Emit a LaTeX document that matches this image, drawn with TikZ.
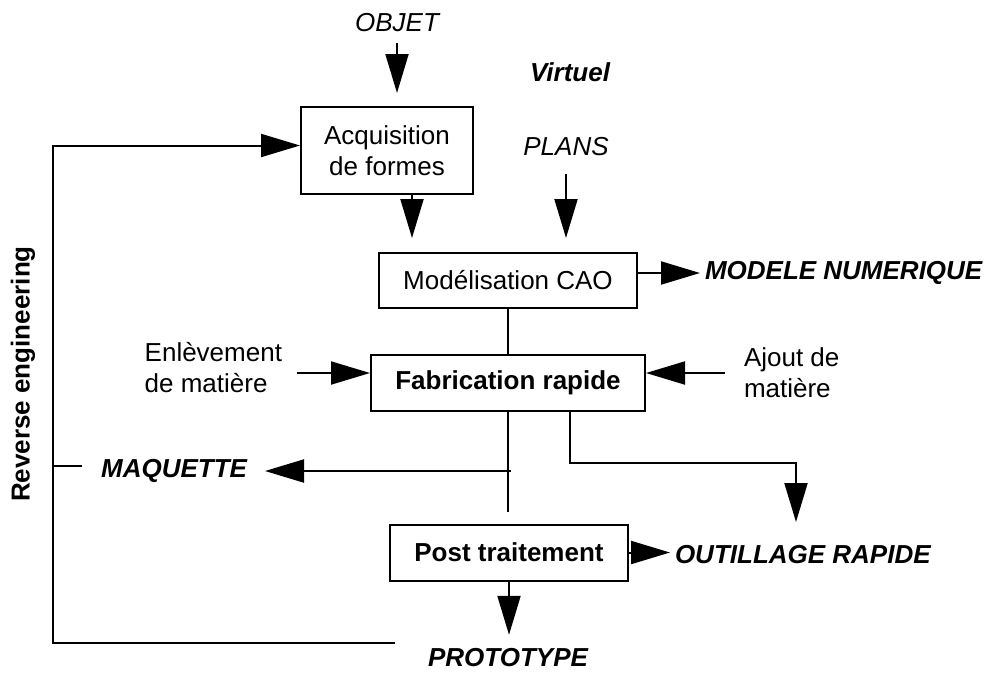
\documentclass[tikz,border=0pt]{standalone}
\usepackage{fontspec}
\setmainfont{Liberation Sans}
\usetikzlibrary{arrows.meta}

\begin{document}
\begin{tikzpicture}[x=1pt, y=-1pt, line width=2pt,
  every node/.style={font=\fontsize{26}{31}\selectfont, inner sep=4pt},
  box/.style={draw, inner sep=0pt, align=center},
  strong/.style={font=\fontsize{26}{31}\selectfont\bfseries},
  slanted/.style={font=\fontsize{26}{31}\selectfont\itshape},
  result/.style={font=\fontsize{26}{31}\selectfont\bfseries\itshape},
  arr/.style={-{Triangle[length=39pt, width=23pt]}}]

\useasboundingbox (0,0) rectangle (995,673);

%process boxes
\node[box, minimum width=172pt, minimum height=87pt] (acq) at (387,150.5) {Acquisition\\de formes};
\node[box, minimum width=258pt, minimum height=55pt] (cao) at (508,280.5) {Mod\'elisation CAO};
\node[box, strong, minimum width=274pt, minimum height=56pt] (fab) at (508,383) {Fabrication rapide};
\node[box, strong, minimum width=238pt, minimum height=56pt] (post) at (509,552.5) {Post traitement};

\node[slanted] (objet) at (397,23) {OBJET};
\node[result] (virt) at (570,72) {Virtuel};
\node[slanted] (plans) at (566,147) {PLANS};
\node[result, anchor=west] (modele) at (700,273) {MODELE NUMERIQUE};
\node[align=left, anchor=east] (enl) at (287,368) {Enl\`evement\\de mati\`ere};
\node[align=left, anchor=west] (ajout) at (739,373) {Ajout de\\mati\`ere};
\node[result, anchor=east] (maq) at (252,471) {MAQUETTE};
\node[result, anchor=west] (outil) at (670,555) {OUTILLAGE RAPIDE};
\node[result] (proto) at (508,658) {PROTOTYPE};
\node[strong, rotate=90] (rev) at (23,374) {Reverse engineering};

%inputs
\draw[arr, shorten <=6pt, shorten >=13pt] (objet.south) -- (objet.south |- acq.north);
\coordinate (acqout) at ([xshift=25pt]acq.south);
\draw[arr, shorten >=14pt] (acqout) -- (acqout |- cao.north);
\draw[arr, shorten <=13pt, shorten >=14pt] (plans.south) -- (plans.south |- cao.north);
\draw[arr] (cao.east |- modele.west) -- (modele.west);
\draw (cao.south) -- (fab.north);

\coordinate (fabL) at ([yshift=10pt]fab.west);
\coordinate (fabR) at ([yshift=10pt]fab.east);
\draw[arr, shorten <=10pt] (enl.east |- fabL) -- (fabL);
\draw[arr, shorten <=14pt] (ajout.west |- fabR) -- (fabR);

%outputs
\draw[shorten >=12pt] (fab.south) -- (fab.south |- post.north);
\coordinate (maqsrc) at (fab.south |- maq.east);
\draw[arr, shorten <=-3pt, shorten >=13pt] (maqsrc) -- (maq.east);

\coordinate (fabO) at ([xshift=62pt]fab.south);
\coordinate (outTip) at (796,522);
\draw[arr] (fabO) -- ++(0,51) -| (outTip);

\draw[arr] (post.east) -- (post.east -| outil.west);
\draw[arr, shorten >=9pt] (post.south) -- (post.south |- proto.north);

%reverse engineering loop
\coordinate (retour) at (395,643);
\coordinate (revcorner) at (53,466);
\draw[arr] (retour) -| (revcorner) |- ([yshift=5pt]acq.west);
\draw (revcorner) -- ++(29,0);

\end{tikzpicture}
\end{document}
